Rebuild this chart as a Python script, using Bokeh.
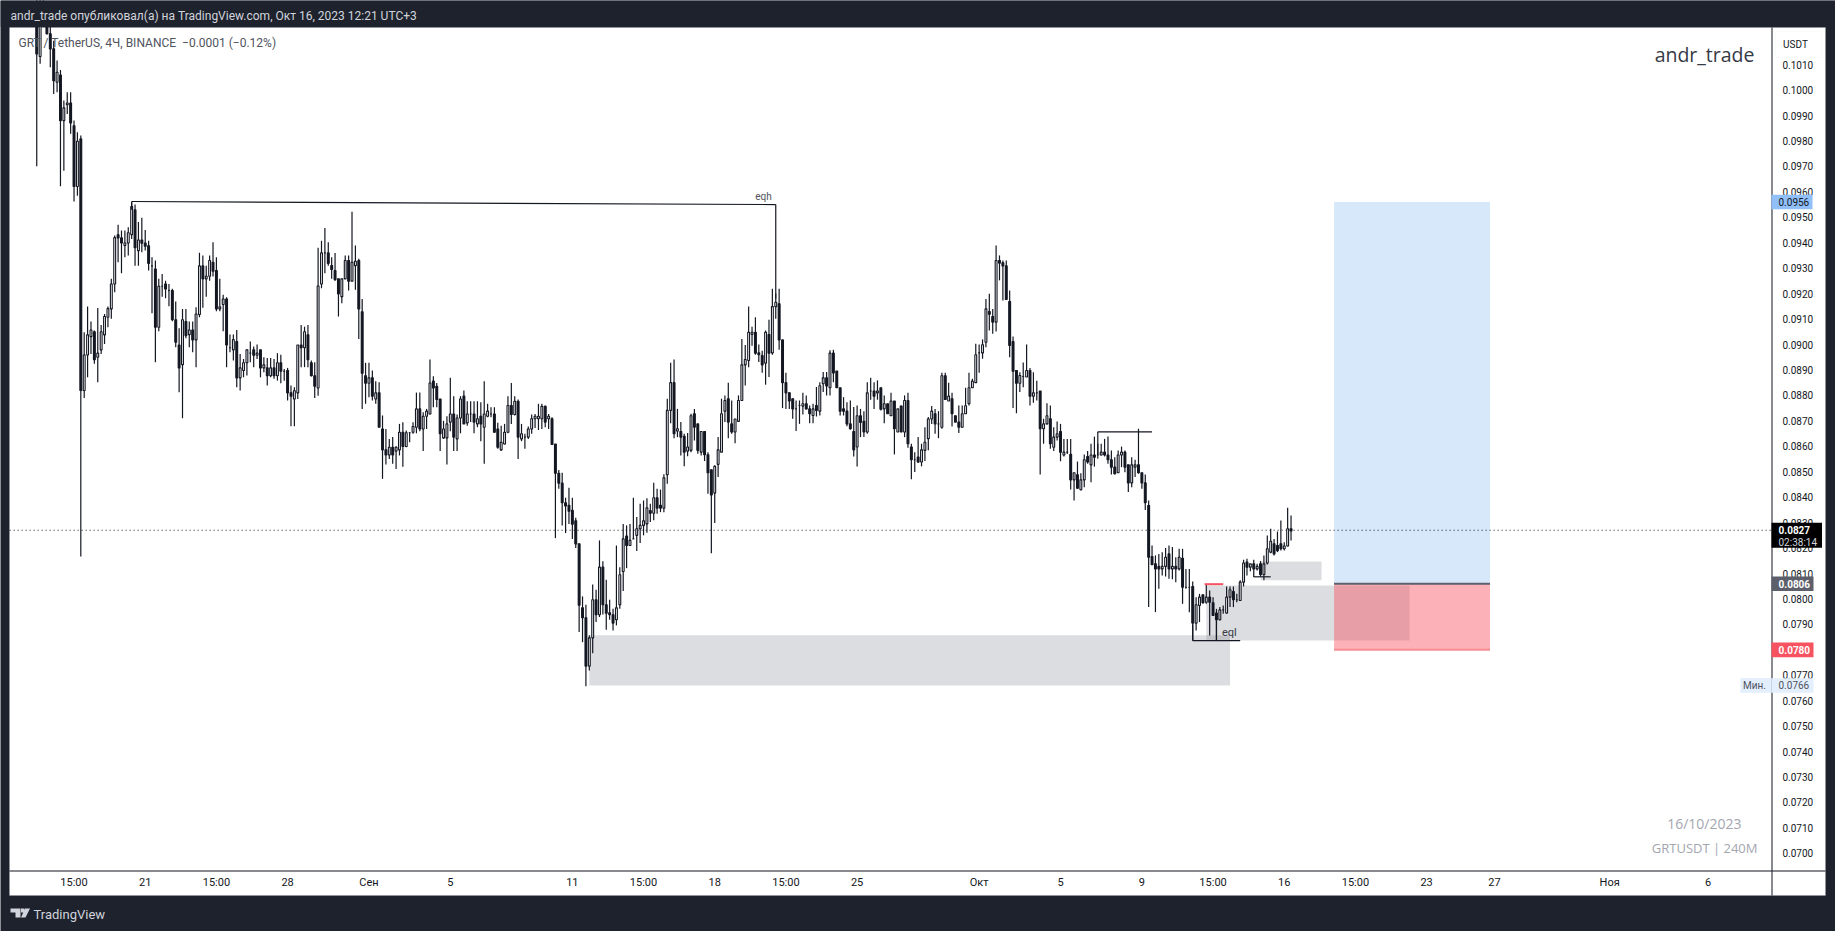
from bokeh.plotting import figure, ColumnDataSource
from bokeh.models import (Range1d, FixedTicker, PrintfTickFormatter, BoxAnnotation, Label,
                          PolyAnnotation, LinearAxis)
from bokeh.embed import file_html
from bokeh.resources import INLINE

# 4h GRT/USDT candles (first candle index -13)
first_index = -13
opens = [
.10330,.10132,.10310,.10290,.10221,.10162,.10031,.10059,.09880,.09942,
.09949,.09860,.09621,.09808,
.08819,.08959,.09031,.09050,.08950,.08979,.09038,.09107,.09140,.09238,
.09431,.09419,.09389,.09399,.09432,.09529,.09369,.09411,.09399,.09388,
.09309,.09297,.09068,.09229,.09238,.09212,.09212,.09097,.08998,.08921,
.09090,.09039,.09057,.09018,.09118,.09309,.09258,.09268,.09323,.09291,
.09140,.09157,.09179,.08987,.08979,.09012,.08869,.08898,.08928,.08966,
.08979,.08958,.08979,.08908,.08908,.08877,.08908,.08877,.08928,.08895,
.08898,.08810,.08786,.08810,.08998,.08987,.09038,.08928,.08877,.08829,
.09238,.09360,.09360,.09310,.09291,.09258,.09188,.09258,.09330,.09249,
.09310,.09330,.09129,.08877,.08848,.08869,.08786,.08810,.08668,.08586,
.08566,.08596,.08581,.08586,.08655,.08599,.08653,.08655,.08675,.08747,
.08668,.08718,.08727,.08856,.08836,.08786,.08633,.08633,.08695,.08727,
.08629,.08711,.08797,.08692,.08727,.08727,.08688,.08718,.08675,.08718,
.08727,.08727,.08668,.08586,.08609,.08655,.08760,.08725,.08777,.08629,
.08636,.08636,.08668,.08708,.08708,.08708,.08757,.08708,.08708,.08609,
.08494,.08455,.08378,.08368,.08348,.08307,.08217,.07965,.07926,.07736,
.07847,.07997,.07938,.08125,.07977,.07946,.07938,.07918,.07977,.08108,
.08247,.08210,.08236,.08250,.08276,.08289,.08295,.08347,.08337,.08398,
.08368,.08357,.08488,.08741,.08850,.08660,.08658,.08639,.08581,.08584,
.08728,.08688,.08577,.08658,.08567,.08508,.08416,.08529,.08577,.08738,
.08787,.08688,.08656,.08698,.08780,.08920,.08937,.09040,.09048,.08967,
.08957,.08927,.09039,.08967,.09149,.09160,.09018,.08850,.08810,.08787,
.08747,.08760,.08758,.08767,.08747,.08721,.08760,.08738,.08846,.08869,
.08830,.08966,.08896,.08830,.08747,.08738,.08688,.08658,.08597,.08720,
.08698,.08656,.08817,.08817,.08810,.08830,.08747,.08767,.08720,.08778,
.08656,.08758,.08656,.08780,.08597,.08547,.08558,.08538,.08584,.08630,
.08707,.08728,.08688,.08675,.08877,.08778,.08787,.08720,.08695,.08675,
.08728,.08767,.08830,.08850,.08967,.08967,.09009,.09130,.09110,.09088,
.09330,.09321,.09309,.09169,.09012,.08898,.08848,.08874,.08872,.08898,
.08797,.08810,.08817,.08669,.08688,.08708,.08596,.08636,.08658,.08566,
.08577,.08568,.08468,.08488,.08429,.08468,.08560,.08527,.08566,.08566,
.08566,.08577,.08566,.08547,.08518,.08496,.08566,.08577,.08527,.08456,
.08518,.08527,.08496,.08456,.08367,.08167,.08138,.08128,.08118,.08128,
.08177,.08118,.08128,.08118,.08160,.08046,.08046,.08049,.07905,.07974,
.08016,.07987,.08007,.07985,.07945,.07918,.07957,.07945,.08007,.08029,
.07997,.07994,.08066,.08145,.08125,.08138,.08118,.08138,.08096,.08141,
.08184,.08217,.08210,.08217,.08197,.08208,.08276]
highs = [
.10360,.10360,.10380,.10320,.10253,.10194,.10116,.10079,.09959,.09991,
.09991,.09880,.09834,.09821,
.09048,.09149,.09090,.09055,.09143,.09077,.09120,.09149,.09258,.09428,
.09471,.09448,.09448,.09461,.09559,.09550,.09481,.09498,.09450,.09408,
.09343,.09330,.09258,.09277,.09251,.09238,.09219,.09169,.09064,.09140,
.09140,.09090,.09090,.09146,.09361,.09350,.09310,.09350,.09402,.09343,
.09258,.09196,.09186,.09039,.09039,.09057,.08963,.08943,.08979,.09012,
.08992,.09000,.08979,.08950,.08947,.08947,.08943,.08966,.08960,.08904,
.08908,.08839,.08832,.08998,.09077,.09070,.09077,.08937,.08930,.09380,
.09408,.09458,.09402,.09343,.09360,.09258,.09258,.09350,.09350,.09522,
.09389,.09337,.09179,.08928,.08928,.08898,.08856,.08852,.08721,.08668,
.08629,.08636,.08600,.08688,.08694,.08662,.08655,.08694,.08811,.08811,
.08734,.08747,.08941,.08875,.08849,.08786,.08700,.08718,.08869,.08797,
.08725,.08797,.08819,.08777,.08777,.08777,.08777,.08773,.08856,.08767,
.08753,.08753,.08692,.08681,.08688,.08797,.08849,.08797,.08784,.08688,
.08649,.08678,.08725,.08727,.08767,.08767,.08760,.08727,.08714,.08609,
.08507,.08496,.08398,.08437,.08398,.08319,.08217,.08010,.07977,.07857,
.08057,.08036,.08230,.08148,.08075,.07997,.07961,.08210,.08125,.08295,
.08289,.08295,.08398,.08322,.08374,.08387,.08396,.08374,.08457,.08433,
.08430,.08490,.08787,.08928,.08941,.08747,.08695,.08649,.08652,.08728,
.08747,.08688,.08658,.08658,.08577,.08508,.08525,.08636,.08787,.08800,
.08850,.08780,.08707,.08800,.09022,.08998,.09149,.09070,.09107,.09000,
.08975,.09055,.09097,.09219,.09200,.09219,.09018,.08889,.08812,.08787,
.08780,.08780,.08810,.08800,.08760,.08767,.08833,.08852,.08892,.08892,
.08977,.08979,.08896,.08830,.08793,.08773,.08780,.08754,.08760,.08747,
.08738,.08852,.08869,.08852,.08859,.08830,.08800,.08767,.08810,.08778,
.08747,.08760,.08800,.08810,.08610,.08577,.08636,.08610,.08675,.08715,
.08758,.08747,.08738,.08889,.08889,.08850,.08810,.08720,.08760,.08760,
.08830,.08889,.08865,.09003,.09000,.09020,.09179,.09199,.09140,.09389,
.09350,.09330,.09330,.09212,.09031,.08898,.08891,.08929,.09000,.08908,
.08891,.08858,.08817,.08708,.08769,.08760,.08675,.08697,.08688,.08629,
.08629,.08629,.08496,.08540,.08494,.08568,.08581,.08610,.08638,.08610,
.08610,.08629,.08638,.08583,.08557,.08583,.08599,.08583,.08527,.08557,
.08547,.08669,.08496,.08489,.08387,.08210,.08171,.08177,.08184,.08200,
.08210,.08204,.08164,.08197,.08197,.08118,.08118,.08069,.08007,.08020,
.08016,.08057,.08033,.08007,.07961,.07968,.07974,.08049,.08049,.08049,
.08020,.08073,.08154,.08158,.08138,.08154,.08138,.08149,.08171,.08249,
.08276,.08236,.08265,.08308,.08223,.08358,.08328]
lows = [
.09701,.10103,.10280,.10221,.10090,.09985,.09991,.09622,.09683,.09906,
.09828,.09562,.09585,.08167,
.08790,.08871,.08963,.08924,.08852,.08963,.09002,.09068,.09101,.09205,
.09323,.09280,.09343,.09350,.09415,.09310,.09310,.09363,.09369,.09291,
.09123,.08930,.09052,.09188,.09182,.09150,.09091,.08989,.08812,.08710,
.09025,.08989,.08970,.08911,.09107,.09144,.09188,.09251,.09267,.09131,
.09131,.09052,.08911,.08970,.08937,.08832,.08819,.08871,.08878,.08930,
.08911,.08943,.08871,.08891,.08839,.08871,.08865,.08858,.08848,.08858,
.08780,.08679,.08679,.08786,.08911,.08911,.08911,.08874,.08790,.08799,
.09221,.09280,.09310,.09258,.09251,.09110,.09162,.09258,.09212,.09249,
.09215,.09022,.08747,.08767,.08793,.08780,.08767,.08675,.08472,.08528,
.08550,.08531,.08511,.08564,.08520,.08596,.08616,.08649,.08651,.08659,
.08581,.08668,.08725,.08753,.08753,.08581,.08629,.08528,.08659,.08581,
.08581,.08651,.08688,.08681,.08695,.08651,.08675,.08620,.08531,.08714,
.08714,.08653,.08590,.08581,.08607,.08651,.08688,.08721,.08550,.08620,
.08590,.08629,.08649,.08672,.08664,.08668,.08675,.08668,.08607,.08239,
.08433,.08289,.08259,.08295,.08236,.08200,.07870,.07830,.07657,.07719,
.07787,.07909,.07929,.07939,.07879,.07918,.07876,.07896,.07961,.08031,
.08121,.08210,.08236,.08188,.08220,.08250,.08260,.08302,.08309,.08335,
.08341,.08341,.08453,.08691,.08632,.08636,.08564,.08522,.08561,.08577,
.08623,.08571,.08564,.08542,.08413,.08180,.08298,.08479,.08577,.08695,
.08632,.08649,.08612,.08698,.08780,.08839,.08911,.08995,.08960,.08931,
.08889,.08842,.08872,.08960,.09101,.08979,.08750,.08747,.08747,.08708,
.08660,.08688,.08725,.08745,.08691,.08691,.08717,.08721,.08813,.08800,
.08800,.08852,.08830,.08721,.08721,.08679,.08665,.08560,.08521,.08636,
.08636,.08649,.08783,.08747,.08783,.08741,.08691,.08728,.08720,.08568,
.08656,.08656,.08636,.08594,.08470,.08499,.08534,.08521,.08542,.08584,
.08688,.08649,.08632,.08669,.08784,.08778,.08678,.08695,.08652,.08673,
.08728,.08760,.08830,.08850,.08889,.08944,.08989,.09055,.09042,.09051,
.09252,.09173,.09177,.08950,.08750,.08730,.08813,.08832,.08872,.08760,
.08771,.08780,.08489,.08610,.08686,.08590,.08581,.08623,.08541,.08560,
.08570,.08430,.08387,.08433,.08426,.08439,.08531,.08459,.08520,.08551,
.08564,.08560,.08531,.08489,.08489,.08496,.08518,.08498,.08420,.08439,
.08479,.08492,.08433,.08350,.07968,.08135,.07948,.08040,.08092,.08088,
.08079,.08077,.08066,.08112,.07981,.08040,.07948,.07837,.07876,.07909,
.07981,.07981,.07856,.07935,.07837,.07915,.07942,.07942,.07968,.07968,
.07987,.07994,.08049,.08092,.08109,.08086,.08112,.08088,.08073,.08135,
.08180,.08171,.08184,.08190,.08190,.08206,.08230]
closes = [
.10142,.10290,.10290,.10221,.10162,.10037,.10070,.09880,.09930,.09949,
.09871,.09621,.09799,.08819,
.08959,.09038,.09057,.08940,.08966,.09050,.09110,.09141,.09238,.09420,
.09419,.09399,.09399,.09439,.09542,.09380,.09411,.09398,.09386,.09319,
.09309,.09068,.09229,.09229,.09218,.09212,.09097,.09009,.08908,.09097,
.09035,.09057,.09018,.09120,.09309,.09258,.09268,.09330,.09288,.09140,
.09148,.09179,.08998,.08987,.09019,.08869,.08908,.08928,.08979,.08966,
.08958,.08966,.08908,.08920,.08877,.08908,.08877,.08928,.08895,.08895,
.08810,.08797,.08818,.08998,.08987,.09050,.08940,.08877,.08836,.09230,
.09360,.09360,.09319,.09295,.09255,.09199,.09258,.09330,.09249,.09323,
.09327,.09140,.08887,.08848,.08869,.08797,.08810,.08675,.08586,.08566,
.08596,.08566,.08596,.08655,.08599,.08653,.08653,.08678,.08747,.08668,
.08718,.08738,.08849,.08829,.08784,.08649,.08668,.08688,.08727,.08636,
.08711,.08786,.08688,.08727,.08727,.08695,.08708,.08688,.08727,.08738,
.08727,.08655,.08596,.08616,.08655,.08760,.08725,.08777,.08636,.08649,
.08636,.08668,.08708,.08718,.08718,.08757,.08695,.08718,.08607,.08494,
.08455,.08378,.08365,.08345,.08294,.08216,.07975,.07926,.07736,.07847,
.07997,.07938,.08125,.07977,.07944,.07938,.07905,.07965,.08095,.08236,
.08210,.08230,.08236,.08276,.08289,.08307,.08358,.08337,.08398,.08357,
.08357,.08476,.08741,.08850,.08649,.08669,.08636,.08577,.08597,.08720,
.08675,.08584,.08658,.08567,.08496,.08409,.08521,.08586,.08728,.08780,
.08695,.08656,.08707,.08780,.08920,.08941,.09048,.09048,.08966,.08960,
.08920,.09048,.08966,.09149,.09166,.09018,.08850,.08810,.08778,.08747,
.08747,.08760,.08767,.08747,.08728,.08747,.08741,.08838,.08869,.08837,
.08966,.08888,.08830,.08738,.08738,.08688,.08669,.08586,.08720,.08694,
.08656,.08810,.08817,.08797,.08817,.08746,.08767,.08728,.08778,.08669,
.08747,.08656,.08780,.08610,.08547,.08547,.08538,.08586,.08616,.08707,
.08738,.08688,.08688,.08877,.08784,.08797,.08728,.08695,.08675,.08728,
.08759,.08830,.08856,.08960,.08967,.08999,.09140,.09119,.09088,.09330,
.09320,.09309,.09177,.08996,.08895,.08848,.08878,.08874,.08898,.08797,
.08810,.08810,.08669,.08688,.08720,.08610,.08636,.08649,.08577,.08577,
.08577,.08468,.08496,.08435,.08468,.08547,.08538,.08566,.08557,.08566,
.08577,.08566,.08547,.08518,.08492,.08566,.08577,.08518,.08456,.08527,
.08527,.08496,.08456,.08378,.08164,.08135,.08118,.08118,.08128,.08164,
.08118,.08128,.08118,.08164,.08046,.08046,.08046,.07905,.07977,.08007,
.07985,.08007,.07987,.07935,.07918,.07957,.07957,.08007,.08036,.07997,
.07997,.08066,.08141,.08125,.08138,.08118,.08128,.08096,.08138,.08197,
.08227,.08177,.08190,.08197,.08208,.08276,.08267]

price_ticks = [0.0700,0.0710,0.0720,0.0730,0.0740,0.0750,0.0760,0.0770,0.0780,0.0790,
               0.0800,0.0810,0.0820,0.0830,0.0840,0.0850,0.0860,0.0870,0.0880,0.0890,
               0.0900,0.0910,0.0920,0.0930,0.0940,0.0950,0.0960,0.0970,0.0980,0.0990,
               0.1000,0.1010]
time_ticks = [-2, 19, 40, 61, 85, 109, 145, 166, 187, 208, 229, 265, 289, 313, 334, 355, 376, 397, 417, 451, 480]
time_labels = ["15:00","21","15:00","28","Сен","5","11","15:00","18","15:00","25","Окт","5","9","15:00","16","15:00","23","27","Ноя","6"]

# grey zones: left, right, top, bottom
zone_left = [150, 332, 348]
zone_right = [339, 392, 366]
zone_top = [.07857, .08053, .08147]
zone_bottom = [.07660, .07837, .08073]

# long position tool
pos_left, pos_right = 369.7, 415.7
target_price, entry_price, stop_price = 0.0956, 0.0806, 0.0780
last_price = 0.0827
min_price = 0.0766

# drawn lines: x0, y0, x1, y1
line_x0 = [15, 15, 205, 300, 300, 328, 328, 335, 346]
line_y0 = [.09562, .09562, .09550, .08657, .08657, .07836, .07836, .07836, .08087]
line_x1 = [15, 205, 205, 300, 316, 342, 328, 335, 351]
line_y1 = [.09530, .09550, .09180, .08566, .08657, .07836, .07900, .07920, .08087]

DARK = "#1e222d"
INK = "#131722"

p = figure(width=1835, height=931, output_backend="svg", toolbar_location=None,
           x_range=Range1d(-23.69, 517.61), y_range=Range1d(.06693, .10352),
           x_axis_location=None, y_axis_location=None, min_border=0)
p.border_fill_color = DARK
p.background_fill_color = DARK
p.outline_line_color = None
p.grid.visible = False


def cbox(left, right, top, bottom, color, line=None, level="underlay"):
    p.add_layout(BoxAnnotation(left=left, right=right, top=top, bottom=bottom,
                               left_units="canvas", right_units="canvas",
                               top_units="canvas", bottom_units="canvas",
                               fill_color=color, fill_alpha=1, line_color=line,
                               level=level))


def clabel(x, y, text, color, size, align="left", font="Roboto", style="normal"):
    p.add_layout(Label(x=x, y=y, x_units="canvas", y_units="canvas", text=text,
                       text_color=color, text_font_size=size, text_align=align,
                       text_baseline="middle", text_font=font, text_font_style=style))


def tag(price, right, bg, text, fg, up=7.3, down=7.3, style="normal"):
    p.add_layout(BoxAnnotation(left=1771, right=right, left_units="canvas", right_units="canvas",
                               top=price + up / 25440, bottom=price - down / 25440,
                               top_units="data", bottom_units="data",
                               fill_color=bg, fill_alpha=1, line_color=None, level="annotation"))
    p.add_layout(Label(x=1778, y=price, x_units="canvas", y_units="data", text=text,
                       text_color=fg, text_font_size="10px", text_baseline="middle",
                       text_font="Roboto", text_font_style=style))


# white panel holding plot and axes, with its rules
cbox(9, 1825, 27, 895, "white", line="#9598a1")
cbox(9, 1825, 870, 871, INK)
cbox(1771, 1772, 27, 895, INK)

ax = LinearAxis(fixed_location=498.7, ticker=FixedTicker(ticks=price_ticks),
                formatter=PrintfTickFormatter(format="%.4f"))
ax.axis_line_color = None
ax.major_tick_line_color = None
ax.minor_tick_line_color = None
ax.major_label_standoff = 5
ax.major_label_text_font = "Roboto"
ax.major_label_text_font_size = "10px"
ax.major_label_text_color = INK
p.add_layout(ax, "right")

bx = LinearAxis(fixed_location=.06933, ticker=FixedTicker(ticks=time_ticks))
bx.major_label_overrides = {t: s for t, s in zip(time_ticks, time_labels)}
bx.axis_line_color = None
bx.major_tick_line_color = None
bx.minor_tick_line_color = None
bx.major_label_standoff = 0
bx.major_label_text_font = "Roboto"
bx.major_label_text_font_size = "11px"
bx.major_label_text_color = INK
p.add_layout(bx, "below")

# position tool and grey zones
p.quad(left=[pos_left], right=[pos_right], top=[target_price], bottom=[entry_price], fill_color="#d7e8fb", line_color=None)
p.quad(left=zone_left, right=zone_right, top=zone_top, bottom=zone_bottom,
       fill_color="#787b86", fill_alpha=0.26, line_color=None)
p.quad(left=[pos_left], right=[pos_right], top=[entry_price], bottom=[stop_price],
       fill_color="#f7525f", fill_alpha=0.45, line_color=None)
p.segment(x0=[pos_left], x1=[pos_right], y0=[entry_price], y1=[entry_price], line_color="#5d606b", line_width=2)
p.segment(x0=[pos_left], x1=[pos_right], y0=[stop_price], y1=[stop_price], line_color="#f98d95", line_width=2)

# last-price dotted line
dotted = p.segment(x0=[-21], x1=[498.7], y0=[last_price], y1=[last_price], line_color=INK, line_width=1)
dotted.glyph.line_dash = [1, 3]

# candles
index = [first_index + i for i in range(len(closes))]
assert len(opens) == len(highs) == len(lows) == len(closes)
src = ColumnDataSource(dict(
    x=index, o=opens, h=highs, l=lows, c=closes,
    top=[max(a, b) for a, b in zip(opens, closes)],
    bottom=[min(a, b) for a, b in zip(opens, closes)],
    fill=["white" if b >= a else INK for a, b in zip(opens, closes)],
))
p.segment(x0="x", x1="x", y0="l", y1="h", source=src, line_color=INK, line_width=1.2)
p.vbar(x="x", width=0.55, top="top", bottom="bottom", source=src, fill_color="fill", line_color=INK, line_width=1.1)

# drawn trend lines
p.segment(x0=line_x0, y0=line_y0, x1=line_x1, y1=line_y1, line_color=INK, line_width=1.2)
p.segment(x0=[331.5], x1=[337], y0=[.08058], y1=[.08058], line_color="#f7525f", line_width=2)

# dark band that closes the chart at the top
cbox(0, 1835, 0, 26.5, DARK, level="annotation")

# texts on the chart
p.add_layout(Label(x=201.4, y=.09582, text="eqh", text_font="Roboto", text_font_size="10px",
                   text_color="#50535e", text_align="center", text_baseline="middle"))
p.add_layout(Label(x=338.8, y=.07869, text="eql", text_font="Roboto", text_font_size="11px",
                   text_color="#363a45", text_align="center", text_baseline="middle"))

clabel(10, 15, "andr_trade опубликовал(а) на TradingView.com, Окт 16, 2023 12:21 UTC+3", "#d1d4dc", "12px")
clabel(18, 42, "GRT / TetherUS, 4Ч, BINANCE\u00a0\u00a0−0.0001 (−0.12%)", "#50535e", "12px")
clabel(1754, 54, "andr_trade", "#363a45", "19.5px", align="right", font="Open Sans")
clabel(1741, 823, "16/10/2023", "#a3a6af", "14px", align="right", font="Open Sans")
clabel(1757, 847, "GRTUSDT | 240M", "#a3a6af", "13px", align="right", font="Open Sans")
clabel(33, 914, "TradingView", "#d1d4dc", "13px")

# USDT badge
cbox(1775, 1821, 31, 57, "white", line="#eceef2", level="annotation")
clabel(1795, 44, "USDT", INK, "10px", align="center")

# price tags
tag(target_price, 1812, "#90bff9", "0.0956", INK)
tag(last_price, 1821.5, "#000000", "0.0827", "white", up=7.6, down=17.5, style="bold")
p.add_layout(Label(x=1778, y=last_price - 12 / 25440, x_units="canvas", y_units="data", text="02:38:14",
                   text_color="#d1d4dc", text_font_size="10px", text_baseline="middle", text_font="Roboto"))
tag(entry_price, 1813, "#5d606b", "0.0806", "white", style="bold")
tag(stop_price, 1813, "#f7525f", "0.0780", "white", style="bold")
tag(min_price, 1813, "#e3effd", "0.0766", "#50535e")
p.add_layout(BoxAnnotation(left=1740, right=1771, left_units="canvas", right_units="canvas",
                           top=min_price + 7.3 / 25440, bottom=min_price - 7.3 / 25440,
                           top_units="data", bottom_units="data",
                           fill_color="#e3effd", fill_alpha=1, line_color=None, level="annotation"))
p.add_layout(Label(x=1754, y=min_price, x_units="canvas", y_units="data", text="Мин.",
                   text_color="#50535e", text_font_size="10px", text_baseline="middle",
                   text_align="center", text_font="Roboto"))

# TradingView mark
LOGO = "#d1d4dc"
p.add_layout(PolyAnnotation(xs=[10, 20, 20, 15, 15, 10], ys=[908, 908, 917, 917, 912, 912],
                            xs_units="canvas", ys_units="canvas", fill_color=LOGO, fill_alpha=1, line_color=None))
p.add_layout(PolyAnnotation(xs=[24.5, 29.5, 25, 20.5], ys=[908, 908, 917, 917],
                            xs_units="canvas", ys_units="canvas", fill_color=LOGO, fill_alpha=1, line_color=None))
cbox(20.5, 24, 908, 912, LOGO, level="annotation")

open("out.html", "w").write(file_html(p, INLINE))
